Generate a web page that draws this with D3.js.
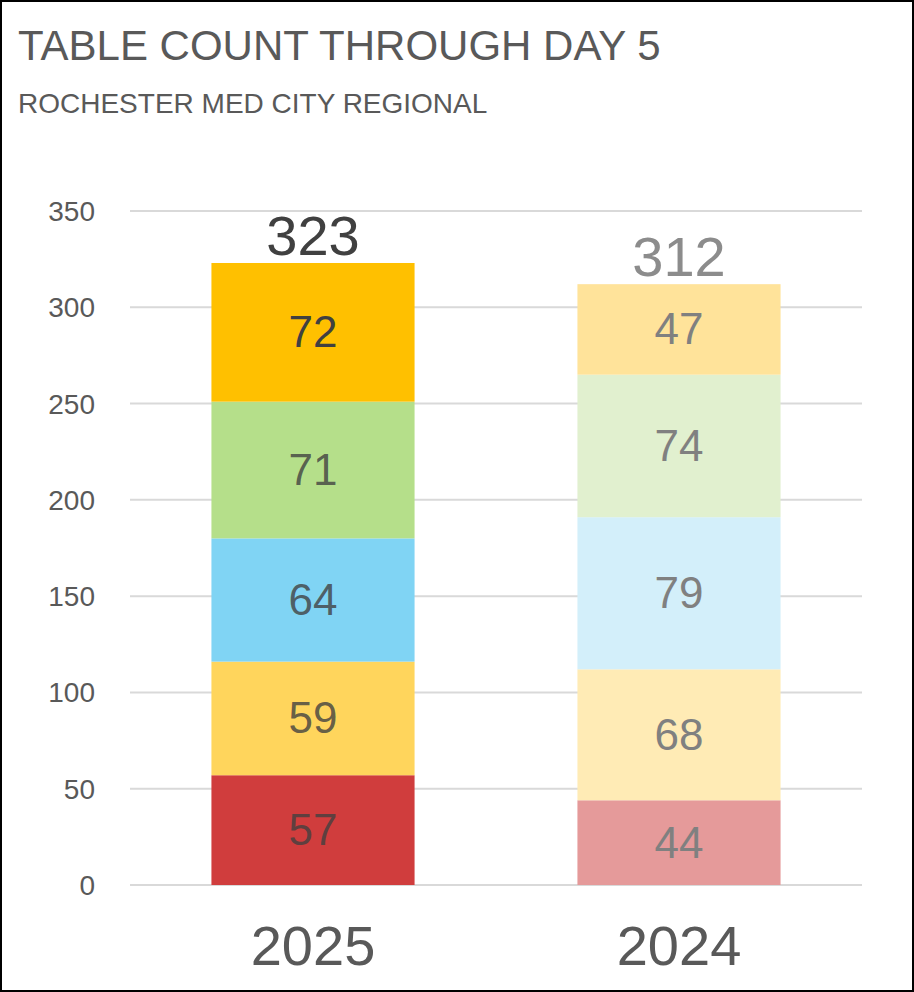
<!DOCTYPE html>
<html><head><meta charset="utf-8">
<script src="https://cdn.jsdelivr.net/npm/d3@7"></script>
<style>body{margin:0;background:#fff}svg{display:block;font-family:"Liberation Sans",Arial,sans-serif}</style>
</head><body><svg id="c" width="914" height="992"></svg>
<script>
const years = ["2025", "2024"];
const days = ["Day 1", "Day 2", "Day 3", "Day 4", "Day 5"];
const values2025 = [57, 59, 64, 71, 72];
const values2024 = [44, 68, 79, 74, 47];
const colors2025 = ["#d03d3d", "#ffd55c", "#80d4f4", "#b5df8a", "#ffc000"];
const colors2024 = ["#e59a9a", "#ffebb5", "#d3effa", "#e1f0cf", "#ffe39a"];
const labelColors = ["#404040cc", "#808080"];
const totalColors = ["#404040", "#8c8c8c"];
const yTicks = [0, 50, 100, 150, 200, 250, 300, 350];

const svg = d3.select("#c");
svg.append("rect").attr("x", 1).attr("y", 1).attr("width", 912).attr("height", 990)
  .attr("fill", "#fff").attr("stroke", "#000").attr("stroke-width", 2);

svg.append("text").attr("x", 18).attr("y", 60).attr("font-size", 42).attr("fill", "#595959")
  .text("TABLE COUNT THROUGH DAY 5");
svg.append("text").attr("x", 18).attr("y", 113).attr("font-size", 28).attr("fill", "#595959")
  .text("ROCHESTER MED CITY REGIONAL");

const y = d3.scaleLinear().domain([0, 350]).range([885, 211]);
const x = d3.scaleBand().domain(years).range([130, 862]).paddingInner(0.445).paddingOuter(0.2225);

// gridlines
svg.append("g").selectAll("line").data(yTicks).join("line")
  .attr("x1", 130).attr("x2", 862).attr("y1", d => y(d)).attr("y2", d => y(d))
  .attr("stroke", "#d9d9d9").attr("stroke-width", 2);

// y axis labels
svg.append("g").selectAll("text").data(yTicks).join("text")
  .attr("x", 95).attr("y", d => y(d) + 10).attr("text-anchor", "end")
  .attr("font-size", 28).attr("fill", "#595959").text(d => d);

const series = [values2025, values2024];
const palettes = [colors2025, colors2024];
years.forEach((yr, i) => {
  const vals = series[i];
  let acc = 0;
  const segs = vals.map((v, j) => { const s = {y0: acc, y1: acc + v, v, c: palettes[i][j]}; acc += v; return s; });
  const g = svg.append("g");
  g.selectAll("rect").data(segs).join("rect")
    .attr("x", x(yr)).attr("width", x.bandwidth())
    .attr("y", d => y(d.y1)).attr("height", d => y(d.y0) - y(d.y1))
    .attr("fill", d => d.c);
  g.selectAll("text").data(segs).join("text")
    .attr("x", x(yr) + x.bandwidth() / 2).attr("y", d => (y(d.y0) + y(d.y1)) / 2 + 15)
    .attr("text-anchor", "middle").attr("font-size", 44)
    .attr("fill", (d, j) => (i === 0 && j === 4) ? "#404040" : labelColors[i]).text(d => d.v);
  g.append("text").attr("x", x(yr) + x.bandwidth() / 2).attr("y", y(acc) - 8)
    .attr("text-anchor", "middle").attr("font-size", 56).attr("fill", totalColors[i]).text(acc);
  svg.append("text").attr("x", x(yr) + x.bandwidth() / 2).attr("y", 965)
    .attr("text-anchor", "middle").attr("font-size", 56).attr("fill", "#595959").text(yr);
});
</script></body></html>
